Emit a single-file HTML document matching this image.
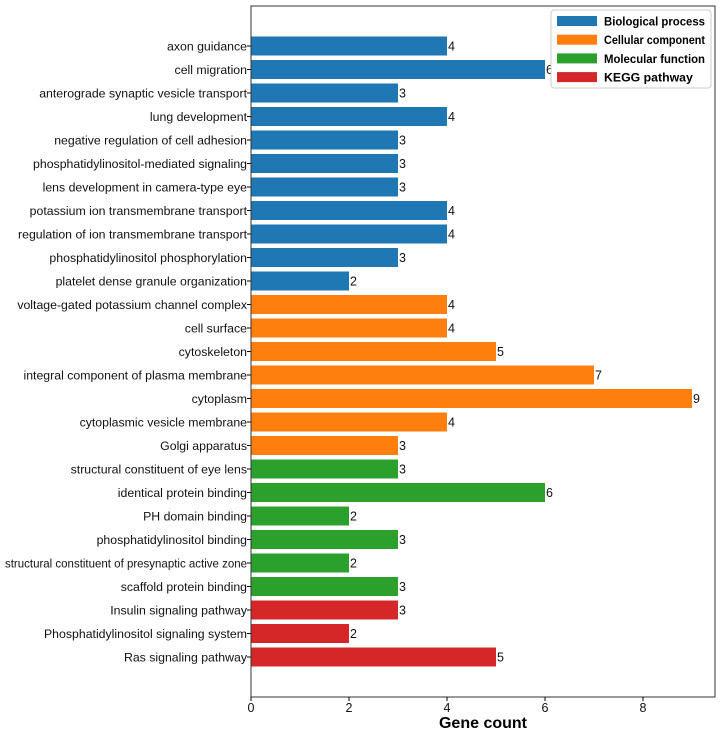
<!DOCTYPE html>
<html><head><meta charset="utf-8"><style>
body{margin:0;background:#fff;font-family:"Liberation Sans","NanumGothic",sans-serif;}
svg text{font-family:"Liberation Sans","NanumGothic",sans-serif;}
</style></head><body>
<svg id="chart" width="722" height="734"></svg>
<script>
const categories=["axon guidance","cell migration","anterograde synaptic vesicle transport","lung development","negative regulation of cell adhesion","phosphatidylinositol-mediated signaling","lens development in camera-type eye","potassium ion transmembrane transport","regulation of ion transmembrane transport","phosphatidylinositol phosphorylation","platelet dense granule organization","voltage-gated potassium channel complex","cell surface","cytoskeleton","integral component of plasma membrane","cytoplasm","cytoplasmic vesicle membrane","Golgi apparatus","structural constituent of eye lens","identical protein binding","PH domain binding","phosphatidylinositol binding","structural constituent of presynaptic active zone","scaffold protein binding","Insulin signaling pathway","Phosphatidylinositol signaling system","Ras signaling pathway"];
const counts=[4,6,3,4,3,3,3,4,4,3,2,4,4,5,7,9,4,3,3,6,2,3,2,3,3,2,5];
const groups=[0,0,0,0,0,0,0,0,0,0,0,1,1,1,1,1,1,1,2,2,2,2,2,2,3,3,3];
const groupNames=["Biological process","Cellular component","Molecular function","KEGG pathway"];
const xTicks=[0,2,4,6,8];
const colors=["#1f77b4","#ff7f0e","#2ca02c","#d62728"];
const NS="http://www.w3.org/2000/svg";
const svg=document.getElementById("chart");
const L=251,R=715,T=6,B=697,unit=49;
const xs=v=>L+v*unit;
const y0=46,step=(657-46)/26,bh=19;
const ys=i=>y0+i*step;
function mk(t,a){const e=document.createElementNS(NS,t);for(const k in a)e.setAttribute(k,a[k]);svg.appendChild(e);return e;}
function fit(el,max){const w=el.getComputedTextLength();if(w>max){el.setAttribute("textLength",max);el.setAttribute("lengthAdjust","spacingAndGlyphs");}}
categories.forEach((c,i)=>{
 const r=mk("rect",{x:xs(0),y:ys(i)-bh/2,width:xs(counts[i])-xs(0),height:bh,fill:colors[groups[i]]});
 
 
 const v=mk("text",{x:xs(counts[i])+1,y:ys(i)+4.5,"font-size":"12.5",fill:"#111"});v.textContent=counts[i];
 
 
 const l=mk("text",{x:L-4,y:ys(i)+4.5,"font-size":"12.3","text-anchor":"end",fill:"#111"});l.textContent=c;
 
 
 fit(l,242);
 mk("line",{x1:L-4,x2:L,y1:ys(i),y2:ys(i),stroke:"#000"});
});
const fr=mk("rect",{x:L,y:T,width:R-L,height:B-T,fill:"none",stroke:"#333","stroke-width":"1"});


xTicks.forEach(t=>{
 mk("line",{x1:xs(t),x2:xs(t),y1:B,y2:B+4,stroke:"#000"});
 const tx=mk("text",{x:xs(t),y:B+15,"font-size":"12.5","text-anchor":"middle",fill:"#111"});tx.textContent=t;
 
 
});
const xt=mk("text",{x:(L+R)/2,y:728,"font-size":"16","font-weight":"bold","text-anchor":"middle"});xt.textContent="Gene count";


const lg=mk("rect",{x:551,y:10,width:160,height:78,fill:"#fff",stroke:"#ccc",rx:"3"});


groupNames.forEach((g,i)=>{
 const y=21+i*18.7;
 mk("rect",{x:557,y:y-5,width:40,height:10,fill:colors[i]});
 const t=mk("text",{x:604,y:y+4.5,"font-size":"12.3","font-weight":"bold"});t.textContent=g;
 
 
 fit(t,101);
});
</script>
</body></html>
